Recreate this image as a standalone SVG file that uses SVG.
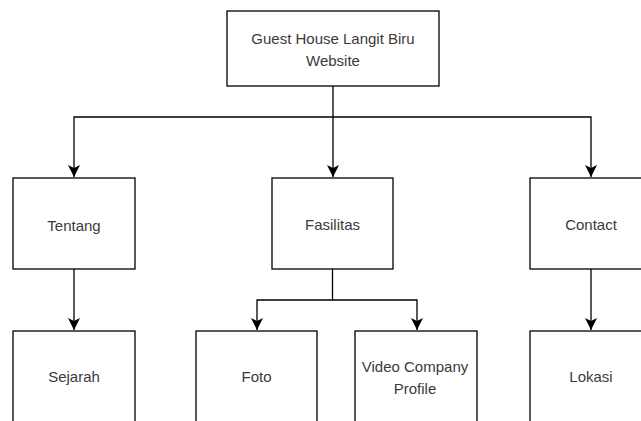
<svg xmlns="http://www.w3.org/2000/svg" width="641" height="421" viewBox="0 0 641 421">
<defs>
<style>
.box{fill:#fff;stroke:#000;stroke-width:1.3}
.t{font-family:"Liberation Sans",Arial,sans-serif;font-size:15px;fill:#3a3a3a;text-anchor:middle}
.c{fill:none;stroke:#000;stroke-width:1.3}
</style>
<marker id="ah" markerWidth="13" markerHeight="13" viewBox="-12 -6.5 12 13" refX="0" refY="0" orient="auto" markerUnits="userSpaceOnUse">
<path d="M0,0 L-12,-6 L-9,0 L-12,6 Z" fill="#000"/>
</marker>
</defs>
<rect width="641" height="421" fill="#fff"/>
<g id="connectors">
<path class="c" d="M333,86 V117 H74 V177" marker-end="url(#ah)"/>
<path class="c" d="M333,117 V177" marker-end="url(#ah)"/>
<path class="c" d="M333,117 H591 V177" marker-end="url(#ah)"/>
<path class="c" d="M74,269 V330" marker-end="url(#ah)"/>
<path class="c" d="M332.5,269 V300 H257 V330" marker-end="url(#ah)"/>
<path class="c" d="M332.5,300 H417 V330" marker-end="url(#ah)"/>
<path class="c" d="M591,269 V330" marker-end="url(#ah)"/>
</g>
<g id="root"><rect class="box" x="227" y="11" width="212" height="75"/><text class="t" x="333" y="44">Guest House Langit Biru</text><text class="t" x="333" y="66">Website</text></g>
<g id="tentang"><rect class="box" x="13" y="178" width="122" height="91"/><text class="t" x="74" y="231">Tentang</text></g>
<g id="fasilitas"><rect class="box" x="272" y="178" width="121" height="91"/><text class="t" x="332.5" y="230">Fasilitas</text></g>
<g id="contact"><rect class="box" x="530" y="178" width="122" height="91"/><text class="t" x="591" y="230">Contact</text></g>
<g id="sejarah"><rect class="box" x="13" y="331" width="122" height="100"/><text class="t" x="74" y="382">Sejarah</text></g>
<g id="foto"><rect class="box" x="196" y="331" width="121" height="100"/><text class="t" x="256.5" y="382">Foto</text></g>
<g id="video"><rect class="box" x="355" y="331" width="122" height="100"/><text class="t" x="415" y="372">Video Company</text><text class="t" x="415" y="394">Profile</text></g>
<g id="lokasi"><rect class="box" x="530" y="331" width="122" height="100"/><text class="t" x="591" y="382">Lokasi</text></g>
</svg>
